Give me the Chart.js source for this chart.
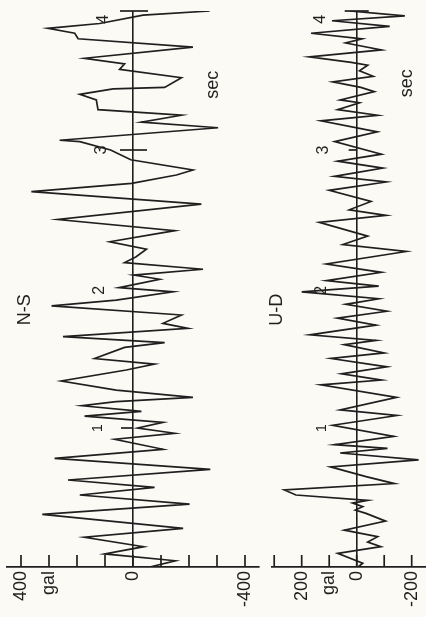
<!DOCTYPE html>
<html>
<head>
<meta charset="utf-8">
<script src="https://cdn.jsdelivr.net/npm/chart.js@4"></script>
<style>
  html, body { margin: 0; padding: 0; background: #fcfaf5; }
  #wrap { position: relative; width: 426px; height: 617px; overflow: hidden; }
  canvas { position: absolute; top: 0; }
  #nsChart { left: 0; }
  #udChart { left: 264px; }
</style>
</head>
<body>
<div id="wrap">
  <canvas id="nsChart" width="264" height="617"></canvas>
  <canvas id="udChart" width="162" height="617"></canvas>
</div>
<script>
// N-S component: time (sec) and acceleration (gal)
const nsTime = [0.00, 0.045, 0.094, 0.146, 0.214, 0.278, 0.379, 0.453, 0.518, 0.573,
  0.626, 0.703, 0.782, 0.847, 0.919, 0.962, 1.00, 1.04, 1.086, 1.12,
  1.16, 1.19, 1.221, 1.273, 1.338, 1.417, 1.46, 1.50, 1.58, 1.614,
  1.657, 1.717, 1.753, 1.813, 1.878, 1.92, 1.98, 2.01, 2.07, 2.10,
  2.142, 2.19, 2.23, 2.286, 2.34, 2.42, 2.50, 2.61, 2.70, 2.76,
  2.82, 2.856, 2.93, 3.0, 3.06, 3.07, 3.16, 3.20, 3.25, 3.29,
  3.36, 3.40, 3.44, 3.45, 3.52, 3.58, 3.62, 3.66, 3.74, 3.80,
  3.84, 3.875, 3.91, 3.97, 4.0];
const nsAccel = [-60, -151, 101, -38, 173, -179, 324, -202, 190, -77,
  232, -276, 280, -107, 65, -149, -17, -107, 173, -30,
  182, 60, -214, 60, 256, 24, -77, 137, 30, -113,
  250, -196, -107, -173, 291, 60, -143, 50, -95, -3,
  -250, 30, -10, -48, 83, -149, 268, -244, 363, 5,
  -155, -214, 8, 80, 190, 262, -304, -30, -173, 125,
  131, 190, 71, -113, -173, 48, 30, 173, -214, 196,
  208, 304, 119, -36, -274];

// U-D component
const udTime = [0.00, 0.027, 0.098, 0.146, 0.18, 0.218, 0.265, 0.33, 0.386, 0.41,
  0.434, 0.46, 0.48, 0.518, 0.554, 0.60, 0.65, 0.72, 0.77, 0.82,
  0.854, 0.88, 0.94, 1.02, 1.09, 1.13, 1.22, 1.31, 1.345, 1.39,
  1.44, 1.50, 1.54, 1.60, 1.63, 1.67, 1.74, 1.79, 1.84, 1.89,
  1.93, 1.98, 2.02, 2.06, 2.12, 2.18, 2.27, 2.32, 2.38, 2.48,
  2.53, 2.57, 2.63, 2.71, 2.77, 2.81, 2.87, 2.92, 2.97, 3.06,
  3.13, 3.21, 3.25, 3.29, 3.34, 3.36, 3.42, 3.45, 3.49, 3.53,
  3.57, 3.61, 3.63, 3.67, 3.72, 3.77, 3.80, 3.84, 3.89, 3.93,
  3.965, 4.0];
const udAccel = [-5, -22, 69, -88, -40, -76, 45, -105, -34, 5,
  -22, 15, -40, 221, 263, -137, -34, 95, -225, 60,
  -112, 80, -135, 87, -146, 60, -145, 130, -90, 55,
  -110, 93, -100, 45, -70, 170, -70, 70, -110, 40,
  -80, 200, -80, 110, -90, 110, -180, 50, -40, 136,
  -107, 27, -52, 100, -107, 81, -95, 69, -90, 80,
  -75, 130, -76, 69, -10, 60, -64, -15, 87, -60,
  -10, -40, 20, 172, -90, 40, -20, 166, -120, 90,
  -175, 25];

// amplitude ticks and their labels
const nsTicks = [-400, -300, -200, -100, 0, 100, 200, 300, 400];
const nsTickLabels = { "400": "400", "300": "gal", "0": "0", "-400": "-400" };
const udTicks = [-200, -100, 0, 100, 200, 300];
const udTickLabels = { "200": "200", "100": "gal", "0": "0", "-200": "-200" };

// second marks on the zero line
const secMarks = ["1", "2", "3", "4"];

const ink = "#1f1f1f";
const font = "'Liberation Sans', Arial, sans-serif";

const seismoMarks = {
  id: "seismoMarks",
  afterDraw(chart, args, opts) {
    const { ctx, chartArea } = chart;
    const xs = chart.scales.x;
    const ys = chart.scales.y;
    ctx.save();
    ctx.strokeStyle = ink;
    ctx.lineWidth = 1.7;
    // amplitude ticks stand up from the base line
    opts.ticks.forEach((v) => {
      const px = xs.getPixelForValue(v);
      ctx.beginPath();
      ctx.moveTo(px, chartArea.bottom);
      ctx.lineTo(px, chartArea.bottom - 12);
      ctx.stroke();
    });
    // cross marks on the zero line at whole seconds
    const x0 = xs.getPixelForValue(0);
    opts.marks.forEach((m) => {
      const py = ys.getPixelForValue(m.t);
      ctx.beginPath();
      ctx.moveTo(x0 - m.l, py);
      ctx.lineTo(x0 + m.r, py);
      ctx.stroke();
    });
    // rotated texts
    ctx.fillStyle = ink;
    ctx.textAlign = "center";
    ctx.textBaseline = "middle";
    opts.labels.forEach((l) => {
      ctx.save();
      ctx.translate(xs.getPixelForValue(l.amp), ys.getPixelForValue(l.t));
      ctx.rotate(-Math.PI / 2);
      ctx.font = l.size + "px " + font;
      ctx.fillText(l.text, 0, 0);
      ctx.restore();
    });
    ctx.restore();
  }
};

function makeSeismo(canvasId, times, accel, range, ticks, tickLabels, padding, marks) {
  return new Chart(document.getElementById(canvasId), {
    type: "scatter",
    data: {
      datasets: [{
        data: times.map((t, i) => ({ x: accel[i], y: t })),
        showLine: true,
        borderColor: ink,
        borderWidth: 1.7,
        pointRadius: 0,
        tension: 0
      }]
    },
    plugins: [seismoMarks],
    options: {
      responsive: false,
      animation: false,
      layout: { padding: padding },
      plugins: {
        legend: { display: false },
        tooltip: { enabled: false },
        seismoMarks: marks
      },
      scales: {
        x: {
          type: "linear",
          min: range[0],
          max: range[1],
          reverse: true,
          afterBuildTicks: (s) => { s.ticks = ticks.map((v) => ({ value: v })); },
          afterFit: (s) => { s.height = 50; },
          ticks: {
            autoSkip: false,
            minRotation: 90,
            maxRotation: 90,
            padding: 4,
            color: ink,
            font: { size: 18, family: font },
            callback: (v) => tickLabels[String(v)] || ""
          },
          grid: {
            drawTicks: false,
            lineWidth: 1.6,
            color: (c) => (c.tick && c.tick.value === 0 ? ink : "rgba(0,0,0,0)")
          },
          border: { display: true, color: ink, width: 1.7 }
        },
        y: { type: "linear", min: 0, max: 4, display: false }
      }
    }
  });
}

makeSeismo("nsChart", nsTime, nsAccel, [-450, 450], nsTicks, nsTickLabels,
  { top: 11, left: 7, right: 5, bottom: 0 },
  {
    ticks: nsTicks,
    marks: [
      { t: 1, l: 12, r: 0 },
      { t: 3, l: 13, r: 14 },
      { t: 4, l: 13, r: 15 }
    ],
    labels: [
      { text: "N-S", amp: 387, t: 1.85, size: 18 },
      { text: "sec", amp: -285, t: 3.47, size: 18 },
      { text: secMarks[0], amp: 125, t: 1.0, size: 14 },
      { text: secMarks[1], amp: 119, t: 1.99, size: 16 },
      { text: secMarks[2], amp: 111, t: 3.0, size: 16 },
      { text: secMarks[3], amp: 104, t: 3.94, size: 16 }
    ]
  });

makeSeismo("udChart", udTime, udAccel, [-252, 308], udTicks, udTickLabels,
  { top: 11, left: 8, right: 0, bottom: 0 },
  {
    ticks: udTicks,
    marks: [
      { t: 3, l: 8, r: 0 },
      { t: 4, l: 12, r: 12 }
    ],
    labels: [
      { text: "U-D", amp: 290, t: 1.85, size: 18 },
      { text: "sec", amp: -184, t: 3.48, size: 18 },
      { text: secMarks[0], amp: 126, t: 1.0, size: 14 },
      { text: secMarks[1], amp: 126, t: 1.99, size: 16 },
      { text: secMarks[2], amp: 120, t: 3.0, size: 16 },
      { text: secMarks[3], amp: 130, t: 3.94, size: 16 }
    ]
  });
</script>
</body>
</html>
